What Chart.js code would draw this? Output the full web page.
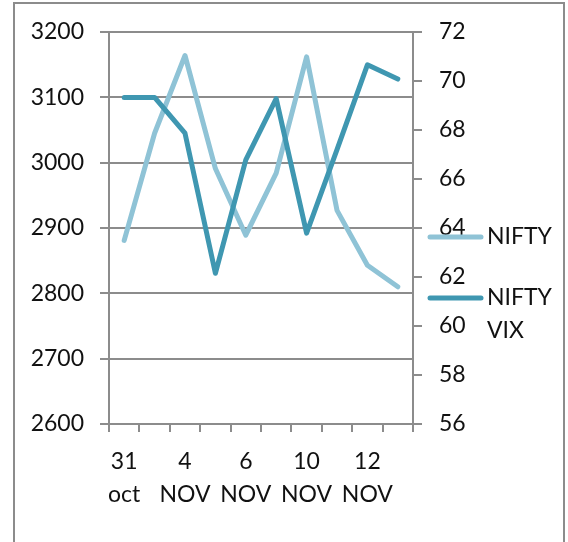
<!DOCTYPE html>
<html>
<head>
<meta charset="utf-8">
<script src="https://cdn.jsdelivr.net/npm/chart.js@4/dist/chart.umd.min.js"></script>
<style>
  body { margin: 0; background: #fff; overflow: hidden; }
  #frame { position: absolute; left: 13px; top: 2px; width: 548px; height: 600px; border: 2px solid #8c8c8c; }
  #myChart { position: absolute; left: 0; top: 0; }
</style>
</head>
<body>
<div id="frame"></div>
<canvas id="myChart" width="568" height="542"></canvas>
<script>
'use strict';

// Categories (only every other one is shown on the axis)
var days = [['31', 'oct'], ['3', 'NOV'], ['4', 'NOV'], ['5', 'NOV'], ['6', 'NOV'],
  ['7', 'NOV'], ['10', 'NOV'], ['11', 'NOV'], ['12', 'NOV'], ['13', 'NOV']];

// Series values
var nifty = [2881, 3045, 3164, 2991, 2889, 2984, 3162, 2927, 2843, 2810];
var niftyVix = [69.33, 69.33, 67.87, 62.15, 66.78, 69.28, 63.79, 67.2, 70.66, 70.08];

// Axis ranges
var leftAxis = { min: 2600, max: 3200, step: 100 };
var rightAxis = { min: 56, max: 72, step: 2 };

var gridColor = '#8c8c8c';
var fontFamily = 'Lato, "Open Sans", sans-serif';
var fontSize = 23;

// Legend at the right, words wrapped like the original
var sideLegend = {
  id: 'sideLegend',
  afterDraw: function(chart) {
    var ctx = chart.ctx;
    var rows = [237, 298];
    ctx.save();
    chart.data.datasets.forEach(function(ds, i) {
      var y = rows[i];
      ctx.strokeStyle = ds.borderColor;
      ctx.lineWidth = 5;
      ctx.lineCap = 'round';
      ctx.beginPath();
      ctx.moveTo(430, y);
      ctx.lineTo(481, y);
      ctx.stroke();
      ctx.fillStyle = '#111';
      ctx.font = fontSize + 'px ' + fontFamily;
      ctx.textBaseline = 'middle';
      ctx.textAlign = 'left';
      var words = ds.label.split(' ');
      words.forEach(function(w, k) {
        ctx.fillText(w, 487, y + k * 33);
      });
    });
    ctx.restore();
  }
};

var ctx = document.getElementById('myChart').getContext('2d');
var chart = new Chart(ctx, {
  type: 'line',
  data: {
    labels: days,
    datasets: [{
      label: 'NIFTY',
      data: nifty,
      yAxisID: 'y',
      borderColor: '#8fc3d6',
      borderWidth: 5,
      borderCapStyle: 'round',
      borderJoinStyle: 'round',
      pointRadius: 0,
      tension: 0,
      order: 2
    }, {
      label: 'NIFTY VIX',
      data: niftyVix,
      yAxisID: 'y1',
      borderColor: '#3f97b1',
      borderWidth: 5,
      borderCapStyle: 'round',
      borderJoinStyle: 'round',
      pointRadius: 0,
      tension: 0,
      order: 1
    }]
  },
  plugins: [sideLegend],
  options: {
    responsive: false,
    animation: false,
    layout: { padding: { top: 32, right: 95, bottom: 0, left: 0 } },
    plugins: { legend: { display: false }, tooltip: { enabled: false } },
    scales: {
      x: {
        offset: true,
        grid: { offset: true, drawOnChartArea: false, tickLength: 8, color: gridColor, lineWidth: 2 },
        border: { color: gridColor, width: 2 },
        ticks: {
          autoSkip: false,
          maxRotation: 0,
          padding: 13,
          color: '#111',
          font: { family: fontFamily, size: fontSize, lineHeight: 1.45 },
          callback: function(value, index) {
            return index % 2 === 0 ? days[index] : '';
          }
        },
        afterFit: function(scale) { scale.height = 118; }
      },
      y: {
        position: 'left',
        min: leftAxis.min,
        max: leftAxis.max,
        ticks: {
          stepSize: leftAxis.step, padding: 16, color: '#111',
          font: { family: fontFamily, size: fontSize },
          callback: function(value) { return String(value); }
        },
        grid: { tickLength: 9, color: gridColor, lineWidth: 2 },
        border: { color: gridColor, width: 2 },
        afterFit: function(scale) { scale.width = 109; }
      },
      y1: {
        position: 'right',
        min: rightAxis.min,
        max: rightAxis.max,
        ticks: { stepSize: rightAxis.step, padding: 17, color: '#111', font: { family: fontFamily, size: fontSize } },
        grid: { drawOnChartArea: false, tickLength: 9, color: gridColor, lineWidth: 2 },
        border: { color: gridColor, width: 2 },
        afterFit: function(scale) { scale.width = 60; }
      }
    }
  }
});
</script>
</body>
</html>
